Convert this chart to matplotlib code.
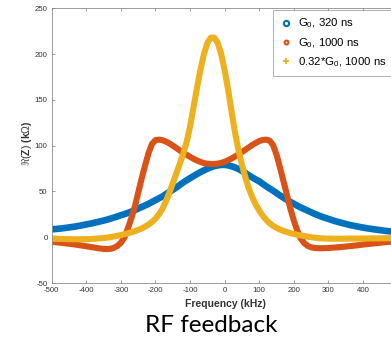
import matplotlib.pyplot as plt
from matplotlib.lines import Line2D

# Frequency grid (kHz) shared by the three curves
freq = list(range(-500, 501, 10))

# Re(Z) in kOhm
g0_320 = [8.6, 8.9, 9.3, 9.7, 10.2, 10.7, 11.2, 11.8, 12.5, 13.2,
          14.0, 14.7, 15.5, 16.4, 17.3, 18.2, 19.2, 20.3, 21.5, 22.7,
          24.0, 25.2, 26.5, 28.0, 29.5, 31.2, 33.0, 34.7, 36.5, 38.5,
          40.5, 42.5, 44.5, 47.0, 49.5, 51.8, 54.2, 57.0, 59.7, 62.2,
          64.5, 66.8, 69.0, 71.1, 73.0, 74.8, 76.4, 77.6, 78.5, 79.0,
          79.0, 78.5, 77.5, 76.1, 74.5, 72.4, 70.1, 67.6, 65.2, 63.0,
          61.0, 58.3, 55.6, 53.2, 50.8, 48.2, 45.6, 43.2, 40.8, 38.6,
          36.5, 34.4, 32.5, 30.7, 29.0, 27.2, 25.5, 24.0, 22.5, 21.2,
          20.0, 18.7, 17.5, 16.5, 15.5, 14.5, 13.5, 12.7, 12.0, 11.2,
          10.5, 9.9, 9.3, 8.7, 8.2, 7.7, 7.2, 6.7, 6.3, 5.9,
          5.6]

g0_1000 = [-5.0, -5.4, -5.8, -6.2, -6.6, -7.1, -7.6, -8.1, -8.7, -9.3,
           -9.9, -10.5, -11.1, -11.7, -12.3, -12.8, -13.0, -12.6, -11.6, -9.5,
           -6.0, -0.5, 9.5, 20.5, 33.0, 48.5, 64.0, 78.5, 92.0, 102.0,
           106.0, 106.6, 106.0, 104.5, 102.5, 100.0, 97.5, 94.8, 92.3, 90.0,
           87.8, 85.6, 83.8, 82.2, 81.0, 80.3, 80.0, 80.0, 80.4, 81.2,
           82.4, 84.1, 86.0, 88.2, 90.5, 93.0, 95.6, 98.2, 100.8, 103.0,
           105.0, 106.2, 106.6, 105.5, 100.5, 90.0, 76.0, 61.0, 46.0, 31.0,
           18.0, 7.0, -1.5, -6.5, -9.5, -11.0, -11.7, -12.0, -12.0, -11.9,
           -11.8, -11.5, -11.2, -10.9, -10.5, -10.2, -9.8, -9.4, -9.0, -8.5,
           -8.0, -7.6, -7.2, -6.8, -6.4, -6.0, -5.6, -5.2, -4.8, -4.5,
           -4.2]

g032_1000 = [-1.5, -1.6, -1.8, -1.9, -2.0, -2.1, -2.2, -2.2, -2.2, -2.1,
             -2.0, -1.9, -1.8, -1.5, -1.2, -0.9, -0.5, 0.1, 0.8, 1.6,
             2.4, 3.3, 4.3, 5.4, 6.6, 8.0, 9.6, 11.5, 13.9, 16.7,
             20.3, 25.0, 31.0, 39.0, 48.5, 59.0, 69.5, 80.0, 91.0, 104.0,
             121.0, 142.0, 163.0, 183.0, 200.0, 212.0, 218.0, 218.0, 212.0, 200.0,
             182.0, 161.0, 137.0, 114.0, 95.0, 79.0, 65.0, 53.0, 43.5, 35.5,
             29.0, 23.5, 19.0, 15.3, 12.4, 10.2, 8.4, 6.9, 5.6, 4.5,
             3.5, 2.7, 2.0, 1.3, 0.6, 0.0, -0.5, -0.9, -1.2, -1.4,
             -1.5, -1.6, -1.6, -1.6, -1.6, -1.6, -1.5, -1.5, -1.5, -1.4,
             -1.4, -1.4, -1.3, -1.3, -1.3, -1.2, -1.2, -1.1, -1.1, -1.0,
             -1.0]

# x tick labels; the 500 label falls outside the cropped picture
xtick_vals = list(range(-500, 501, 100))
xtick_labels = [str(v) for v in xtick_vals[:-1]] + ['']

labels = [r'G$_0$, 320 ns', r'G$_0$, 1000 ns', r'0.32*G$_0$, 1000 ns']
colors = ['#0072BD', '#D95319', '#EDB120']

plt.rcParams['font.family'] = ['Liberation Sans', 'DejaVu Sans']
plt.rcParams['mathtext.fontset'] = 'custom'
plt.rcParams['mathtext.rm'] = 'Liberation Sans'
plt.rcParams['mathtext.bf'] = 'Liberation Sans:bold'
plt.rcParams['mathtext.it'] = 'Liberation Sans:italic'
plt.rcParams['axes.unicode_minus'] = False

fig = plt.figure(figsize=(3.91, 3.38), dpi=100)
# axes run past the right edge of the picture, like the cropped original
ax = fig.add_axes([0.1322, 0.1627, 0.8849, 0.8127])

# blue first, yellow on top
ax.plot(freq, g0_320, c=colors[0], lw=4.8, solid_capstyle='round')
ax.plot(freq, g0_1000, c=colors[1], lw=4.4, solid_capstyle='round')
ax.plot(freq, g032_1000, c=colors[2], lw=4.4, solid_capstyle='round')

ax.set_xlim(-500, 500)
ax.set_ylim(-50, 250)
ax.set_xticks(xtick_vals)
ax.set_xticklabels(xtick_labels)
ax.set_yticks(range(-50, 251, 50))

# MATLAB-like box: thin gray frame, inward ticks on all sides
for side in ax.spines.values():
    side.set_color('#8c8c8c')
    side.set_linewidth(0.6)
ax.tick_params(direction='in', length=2.5, width=0.6, color='#8c8c8c',
               labelsize=5.6, labelcolor='#333333', pad=3,
               top=True, right=True)

ax.set_xlabel('Frequency (kHz)', fontsize=7.5, fontweight='bold', color='#333333')
ax.xaxis.set_label_coords(0.502, -0.058)
ax.set_ylabel(r'$\Re(\mathbf{Z})$ (k$\Omega$)', fontsize=7.5, fontweight='bold',
              color='#333333')
ax.yaxis.set_label_coords(-0.052, 0.51)

# legend shows the marker styles of the original series
handles = [
    Line2D([], [], ls='none', marker='o', ms=3.8, mfc='none', mec=colors[0], mew=1.5),
    Line2D([], [], ls='none', marker='o', ms=2.8, mfc='none', mec=colors[1], mew=1.5),
    Line2D([], [], ls='none', marker='+', ms=4.8, mec=colors[2], mew=1.3),
]
leg = ax.legend(handles, labels, loc='upper left', bbox_to_anchor=(0.64, 0.994),
                fontsize=8.2, frameon=True, fancybox=False, borderpad=0.6,
                labelspacing=0.5, handlelength=1.0, handletextpad=0.6,
                borderaxespad=0)
leg.get_frame().set_edgecolor('#8c8c8c')
leg.get_frame().set_linewidth(0.6)

# caption under the chart
fig.text(0.54, 0.038, 'RF feedback', fontsize=17.5, family='Lato',
         ha='center', va='center')

fig.savefig('out.png', dpi=100)
